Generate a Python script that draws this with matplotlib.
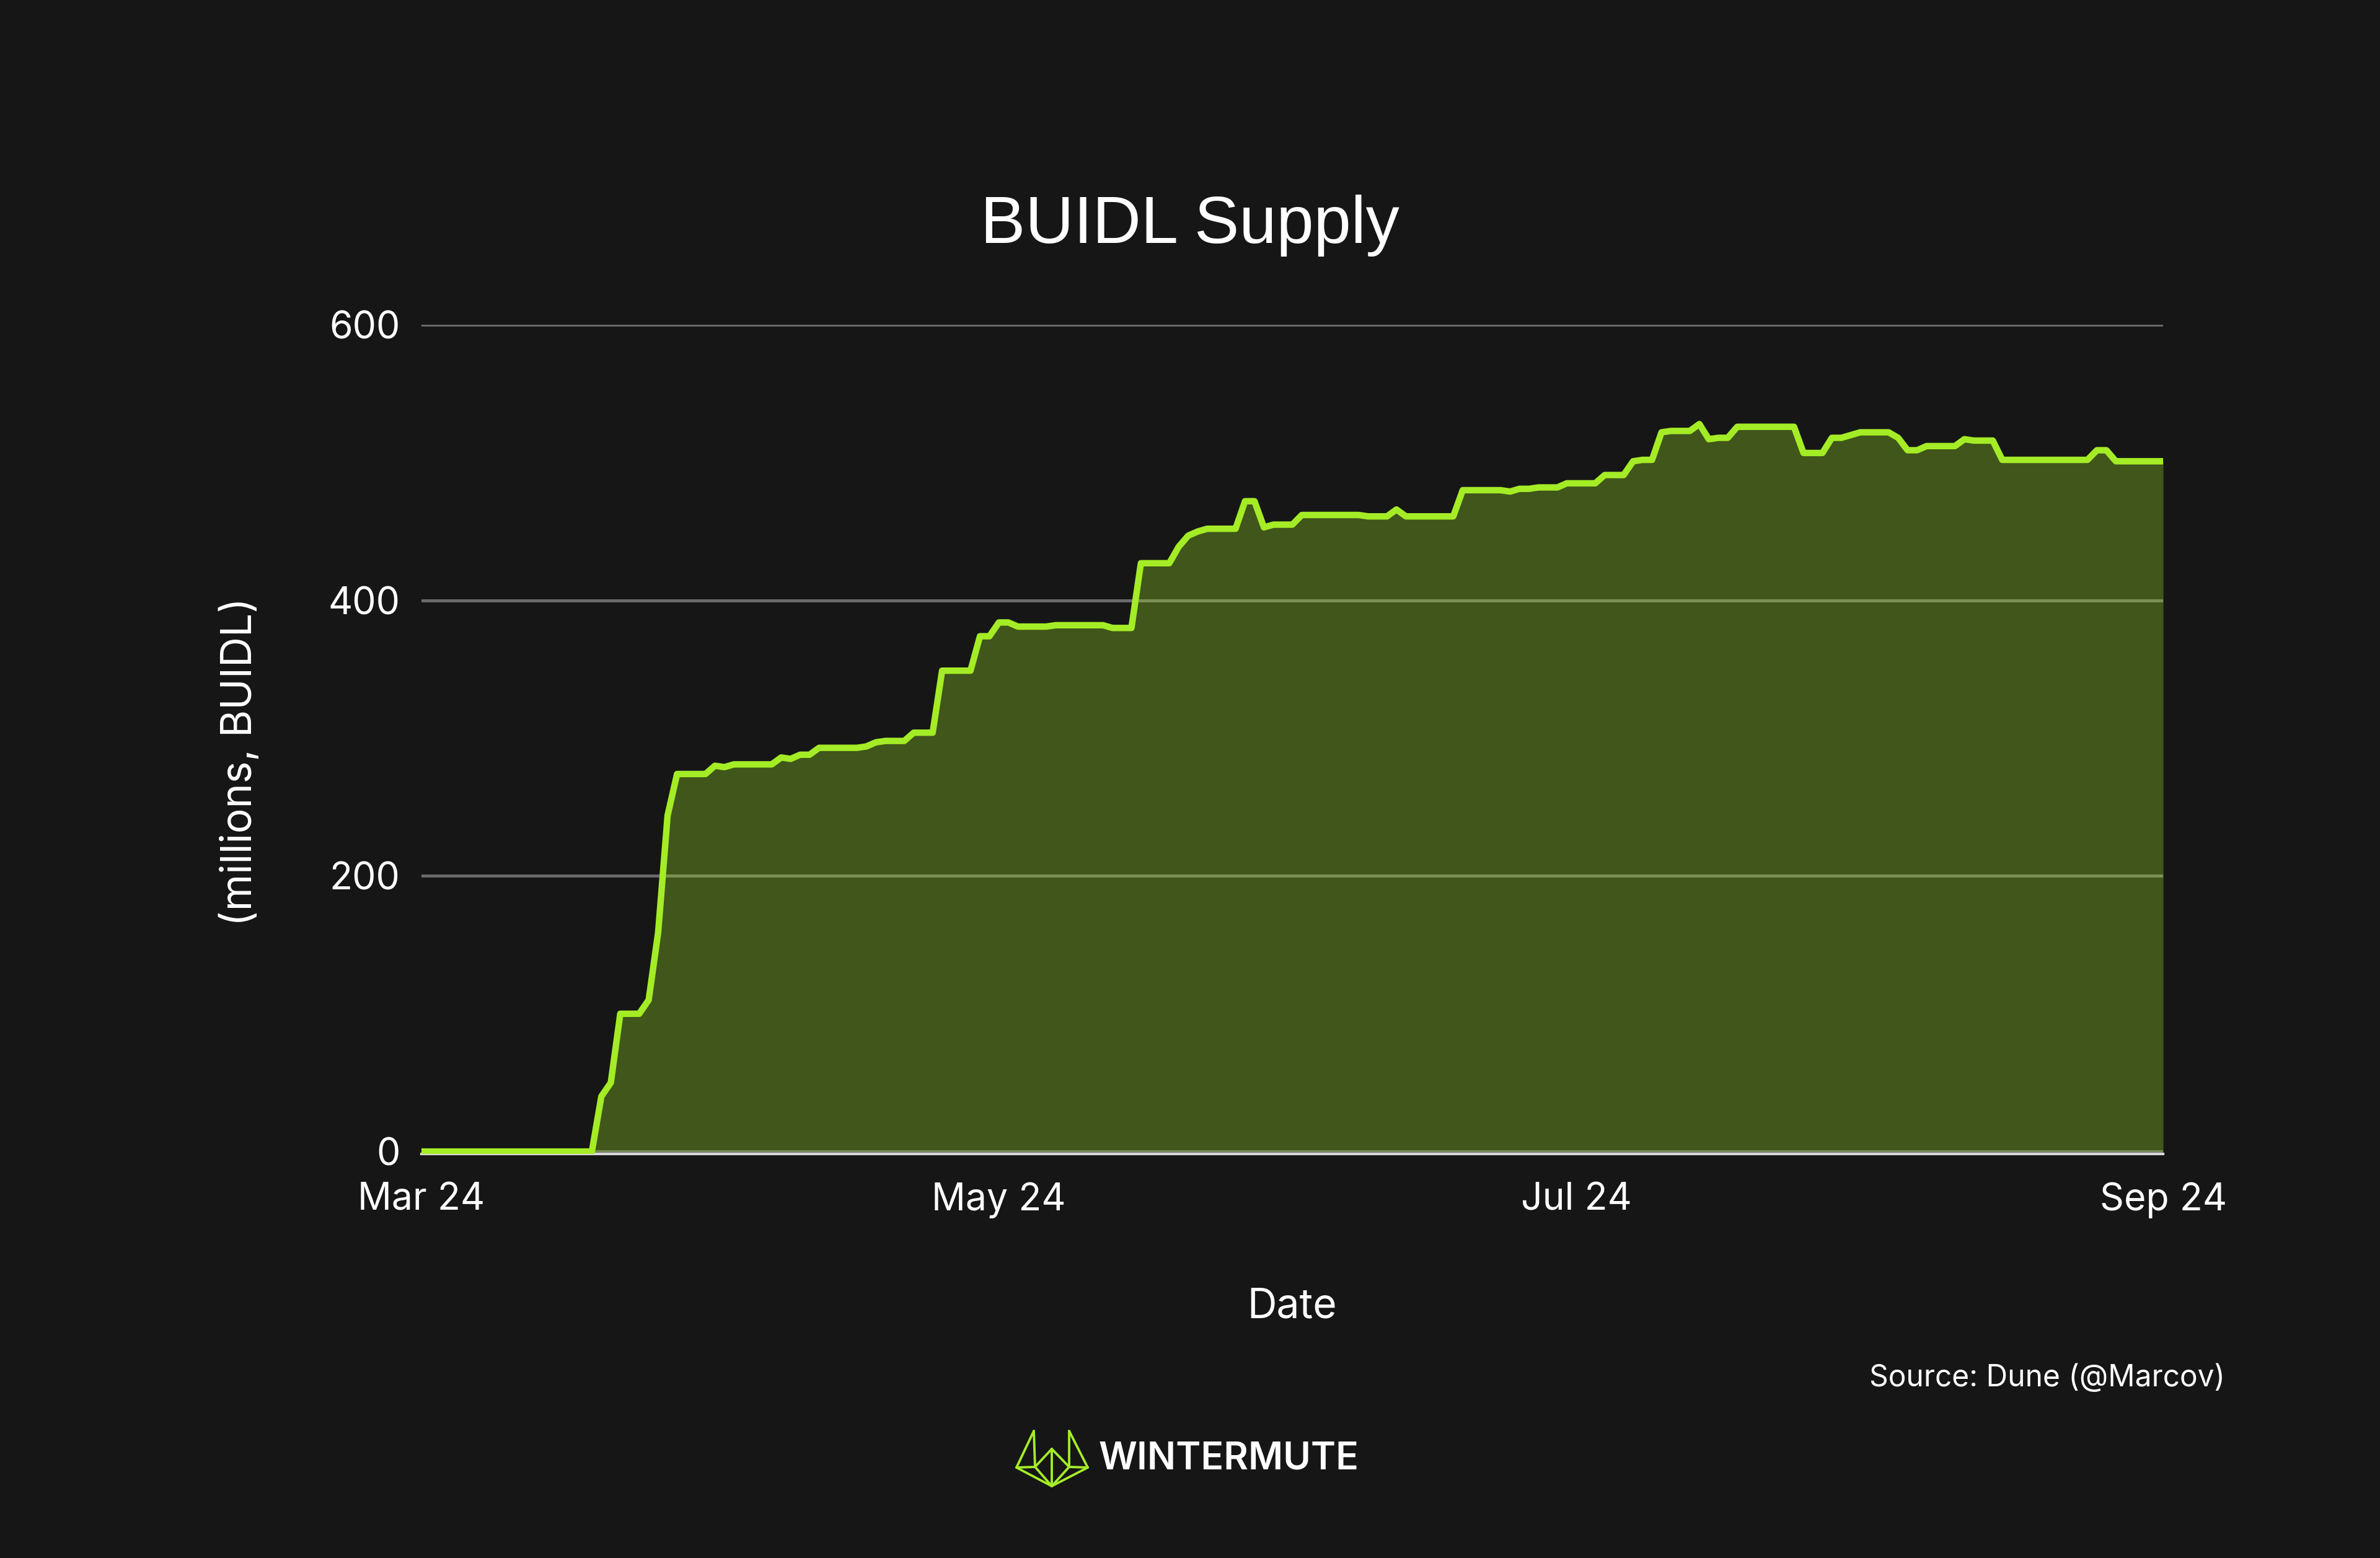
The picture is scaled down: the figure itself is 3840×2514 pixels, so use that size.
import matplotlib
matplotlib.use('Agg')
import matplotlib.pyplot as plt
import matplotlib.dates as mdates
from matplotlib.lines import Line2D
import pandas as pd

# daily BUIDL supply, millions, Mar 1 2024 .. Sep 1 2024
dates = pd.date_range('2024-03-01', '2024-09-01', freq='D')
supply = [
    0, 0, 0, 0, 0, 0, 0, 0, 0, 0,
    0, 0, 0, 0, 0, 0, 0, 0, 0, 40,
    50, 100, 100, 100, 110, 159, 244, 274, 274, 274,
    274, 280, 279, 281, 281, 281, 281, 281, 286, 285,
    288, 288, 293, 293, 293, 293, 293, 294, 297, 298,
    298, 298, 304, 304, 304, 349, 349, 349, 349, 374,
    374, 384, 384, 381, 381, 381, 381, 382, 382, 382,
    382, 382, 382, 380, 380, 380, 427, 427, 427, 427,
    439, 447, 450, 452, 452, 452, 452, 472, 472, 453,
    455, 455, 455, 462, 462, 462, 462, 462, 462, 462,
    461, 461, 461, 466, 461, 461, 461, 461, 461, 461,
    480, 480, 480, 480, 480, 479, 481, 481, 482, 482,
    482, 485, 485, 485, 485, 491, 491, 491, 501, 502,
    502, 522, 523, 523, 523, 528, 517, 518, 518, 526,
    526, 526, 526, 526, 526, 526, 507, 507, 507, 518,
    518, 520, 522, 522, 522, 522, 518, 509, 509, 512,
    512, 512, 512, 517, 516, 516, 516, 502, 502, 502,
    502, 502, 502, 502, 502, 502, 502, 509, 509, 501,
    501, 501, 501, 501, 501,
]
y_ticks = [0, 200, 400, 600]

BG = '#161616'
LIME = '#a4ec26'
FONT = 'Inter'

fig = plt.figure(figsize=(15.36, 10.056), dpi=250, facecolor=BG)
ax = fig.add_axes([0.1771, 0.2593, 0.7318, 0.5322], facecolor=BG)

ax.fill_between(dates, supply, 0, color=LIME, alpha=0.3, linewidth=0, zorder=2)
ax.plot(dates, supply, color=LIME, linewidth=3.0, zorder=3)

ax.set_xlim(dates[0], dates[-1])
ax.set_ylim(-1.8, 600)
ax.set_yticks(y_ticks)
ax.grid(axis='y', color='#6b6b6b', linewidth=1.4, zorder=1)
ax.grid(axis='x', visible=False)
ax.set_axisbelow(True)

ax.xaxis.set_major_locator(mdates.MonthLocator(bymonth=[3, 5, 7, 9]))
ax.xaxis.set_major_formatter(mdates.DateFormatter('%b %y'))

for side in ['top', 'right', 'left']:
    ax.spines[side].set_visible(False)
ax.spines['bottom'].set_color('#d9d9d9')
ax.spines['bottom'].set_linewidth(1.2)
ax.spines['bottom'].set_zorder(2.5)

ax.tick_params(axis='both', length=0, colors='white', labelsize=17.5)
ax.tick_params(axis='y', pad=10)
ax.tick_params(axis='x', pad=13)
for lab in ax.get_xticklabels() + ax.get_yticklabels():
    lab.set_fontfamily(FONT)

fig.text(0.5, 0.844, 'BUIDL Supply', color='white', fontsize=31.2,
         family='Liberation Sans', ha='center', va='baseline')
fig.text(0.1008, 0.511, '(millions, BUIDL)', color='white', fontsize=19.5,
         family=FONT, rotation=90, ha='center', va='center')
fig.text(0.543, 0.161, 'Date', color='white', fontsize=19,
         family=FONT, ha='center', va='center')
fig.text(0.935, 0.1154, 'Source: Dune (@Marcov)', color='white', fontsize=13.8,
         family=FONT, ha='right', va='center')

# wintermute logo: outline icon + wordmark
W, H = 3840, 2514
pts = {
    'lt': (1668, 2309), 'rt': (1725, 2309),
    'lo': (1640, 2368), 'ro': (1755, 2368),
    'ct': (1697, 2338), 'bt': (1697, 2398),
    'li': (1670, 2367), 'ri': (1725, 2367),
}
edges = [('lt', 'lo'), ('lt', 'li'), ('lo', 'li'), ('li', 'ct'), ('ct', 'ri'),
         ('rt', 'ri'), ('rt', 'ro'), ('ri', 'ro'), ('ct', 'bt'), ('lo', 'bt'),
         ('ro', 'bt'), ('li', 'bt'), ('ri', 'bt')]
for a, b in edges:
    (x0, y0), (x1, y1) = pts[a], pts[b]
    fig.add_artist(Line2D([x0 / W, x1 / W], [1 - y0 / H, 1 - y1 / H],
                          color=LIME, linewidth=1.1, solid_capstyle='round',
                          transform=fig.transFigure))
fig.text(0.4617, 0.0636, 'WINTERMUTE', color='white',
         fontsize=17.5, family=FONT, fontweight='semibold', ha='left', va='center')

plt.savefig('out.png', dpi=250, facecolor=BG)
